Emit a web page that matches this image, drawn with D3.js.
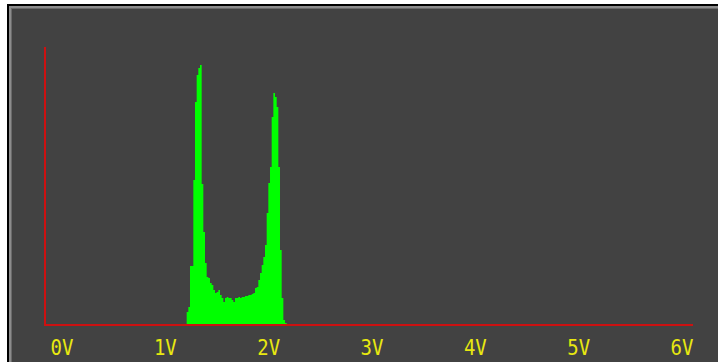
<!DOCTYPE html>
<html>
<head>
<meta charset="utf-8">
<script src="https://cdn.jsdelivr.net/npm/d3@7"></script>
<style>
  html,body{margin:0;padding:0;background:#fff;overflow:hidden;}
  svg{display:block;}
</style>
</head>
<body>
<svg id="chart" width="718" height="362"></svg>
<script>
// ---- data ----
const tickValues = [0, 1, 2, 3, 4, 5, 6];
const tickLabels = ["0V", "1V", "2V", "3V", "4V", "5V", "6V"];
const binStart = 1.2065;   // volts
const binWidth = 0.01613;  // volts
const counts = [
  12, 17, 58, 58, 144, 222, 249, 256, 259, 140,
  92, 61, 47, 46, 41, 39, 34, 31, 32, 34,
  29, 26, 22, 26, 27, 26, 26, 24, 22, 26,
  26, 27, 26, 27, 27, 28, 28, 29, 29, 30,
  31, 36, 37, 44, 51, 59, 67, 79, 111, 141,
  157, 207, 231, 227, 217, 157, 74, 26, 4, 1
];
const yMax = 277;

// ---- drawing ----
const svg = d3.select("#chart");

// frame
svg.append("rect").attr("x", 7).attr("y", 4).attr("width", 720).attr("height", 370).attr("fill", "#000");
svg.append("rect").attr("x", 9).attr("y", 6).attr("width", 720).attr("height", 370).attr("fill", "#8c8c8c");
svg.append("rect").attr("x", 11).attr("y", 8).attr("width", 720).attr("height", 370).attr("fill", "#6a6a6a");
svg.append("rect").attr("x", 12).attr("y", 9).attr("width", 720).attr("height", 370).attr("fill", "#424242");

const x = d3.scaleLinear().domain([0, 6]).range([62, 682]);
const y = d3.scaleLinear().domain([0, yMax]).range([324, 47]);

const bins = counts.map((c, i) => ({v: binStart + i * binWidth, c}));
const pts = bins.concat([{v: binStart + counts.length * binWidth, c: 0}]);

const area = d3.area()
  .x(d => x(d.v))
  .y0(y(0))
  .y1(d => y(d.c))
  .curve(d3.curveStepAfter);

svg.append("path")
  .datum(pts)
  .attr("d", area)
  .attr("fill", "#00ff00");

// axes lines
svg.append("rect").attr("x", 44).attr("y", 47).attr("width", 2).attr("height", 279).attr("fill", "#cc1111");
svg.append("rect").attr("x", 44).attr("y", 324).attr("width", 649).attr("height", 2).attr("fill", "#cc1111");

// tick labels
svg.selectAll("g.tick")
  .data(tickValues)
  .enter()
  .append("g")
  .attr("class", "tick")
  .attr("transform", d => `translate(${x(d)},355) scale(1,1.15)`)
  .append("text")
  .attr("text-anchor", "middle")
  .attr("font-family", "DejaVu Sans Mono")
  .attr("font-size", 19)
  .attr("fill", "#e8e810")
  .text((d, i) => tickLabels[i]);
</script>
</body>
</html>
